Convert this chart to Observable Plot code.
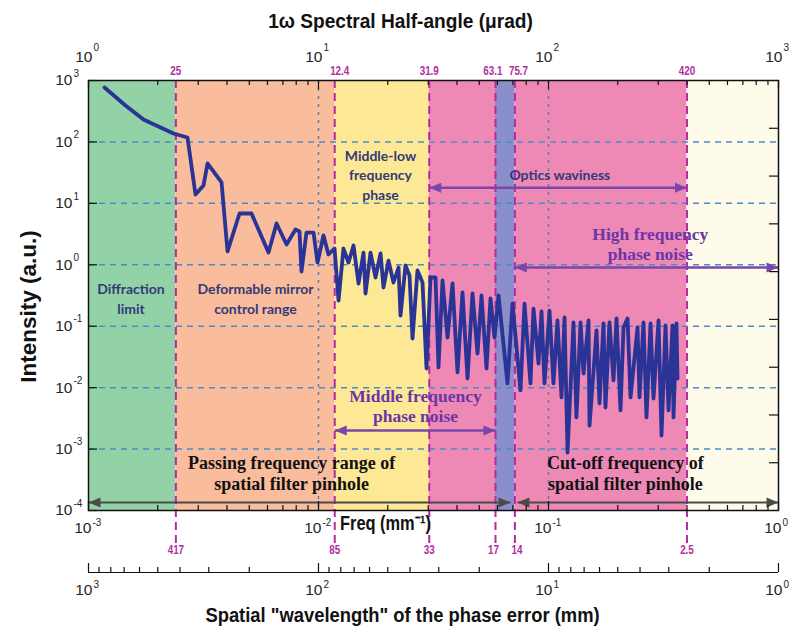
<!DOCTYPE html>
<html><head><meta charset="utf-8">
<script src="https://cdn.jsdelivr.net/npm/d3@7"></script>
<script src="https://cdn.jsdelivr.net/npm/@observablehq/plot@0.6"></script>
<style>body{margin:0;background:#fff;} #chart svg{display:block;}</style>
</head><body><div id="chart"></div>
<script>
// ---- data ----
const freq = [0.001174,0.001448,0.001734,0.002056,0.002343,0.002694,0.002919,0.003162,0.003292,0.003788,
0.004022,0.004535,0.005113,0.006062,0.006569,0.007261,0.007943,0.008267,0.008435,0.008866,
0.009512,0.009901,0.01051,0.01105,0.01174,0.01222,0.01284,0.01350,0.01420,0.01493,
0.01569,0.01601,0.01683,0.01769,0.01861,0.01917,0.02015,0.02119,0.02228,0.02273,
0.02389,0.02487,0.02563,0.02694,0.02833,0.02949,0.03069,0.03227,0.03325,0.03461,
0.03639,0.03826,0.04022,0.04228,0.04445,0.04673,0.04913,0.05114,0.05376,0.05596,
0.05824,0.06062,0.06634,0.06974,0.07555,0.07864,0.08350,0.08605,0.09048,0.09325,
0.09607,0.1010,0.1051,0.1094,0.1139,0.1174,0.1210,0.1284,0.1323,0.1378,
0.1420,0.1493,0.1508,0.1617,0.1666,0.1734,0.1769,0.1841,0.1917,0.1976,
0.2056,0.2119,0.2206,0.2273,0.2438,0.2487,0.2588,0.2667,0.2777,0.2861,
0.3009,0.3100,0.3227,0.3325,0.3461,0.3496,0.3601,0.3639];
const intensity = [769,392,232,172,137,118,13.9,19.5,44.6,21.9,
1.65,6.84,6.84,1.58,4.70,2.14,3.75,3.48,0.778,3.35,
3.35,1.09,3.00,1.47,1.84,0.262,1.84,1.09,2.06,0.496,
1.58,0.341,1.58,0.621,1.53,0.427,1.17,0.515,0.903,0.149,
0.973,0.670,0.0631,0.807,0.515,0.0205,0.621,0.621,0.0213,0.555,
0.0655,0.496,0.0177,0.354,0.0141,0.341,0.0360,0.316,0.0205,0.283,
0.0655,0.316,0.0117,0.234,0.0090,0.234,0.0117,0.194,0.0247,0.174,
0.0117,0.180,0.0117,0.124,0.00692,0.139,0.000879,0.115,0.00327,0.115,
0.0170,0.124,0.00242,0.0851,0.00552,0.111,0.00475,0.115,0.0131,0.134,
0.00425,0.0953,0.134,0.00692,0.0953,0.00692,0.115,0.00327,0.111,0.00665,
0.124,0.00166,0.103,0.00425,0.103,0.00327,0.111,0.0141];

const boundaryWavelength = [417, 85, 33, 17, 14, 2.5];           // mm
const boundaryAngleLabels = ["25", "12.4", "31.9", "63.1", "75.7", "420"];
const regionColors = ["#93d2a7", "#f9bc9c", "#fde895", "#ee88b5", "#8a8fcb", "#ee88b5", "#fefbea"];

const freqDecades = [1e-3, 1e-2, 1e-1, 1];
const freqExp = ["-3", "-2", "-1", "0"];
const angleExp = ["0", "1", "2", "3"];
const wavelengthDecades = [1000, 100, 10, 1];
const wavelengthExp = ["3", "2", "1", "0"];
const yDecades = [1e3, 1e2, 1e1, 1, 1e-1, 1e-2, 1e-3, 1e-4];
const yExp = ["3", "2", "1", "0", "-1", "-2", "-3", "-4"];
const gridY = [1e2, 1e1, 1, 1e-1, 1e-2, 1e-3];
const gridX = [1e-2, 1e-1];
const rightTicks = [166.8, 27.8, 4.64, 0.774, 0.129, 0.0215, 0.00359, 0.000599];

const titleTop = "1ω Spectral Half-angle (μrad)";
const titleFreq = "Freq (mm⁻¹)";
const titleWavelength = "Spatial \"wavelength\" of the phase error (mm)";
const titleY = "Intensity (a.u.)";

const navyLabels = [
  {text: "Diffraction\nlimit", f: 0.00153, v: 0.29},
  {text: "Deformable mirror\ncontrol range", f: 0.00532, v: 0.29},
  {text: "Middle-low\nfrequency\nphase", f: 0.0186, v: 30},
  {text: "Optics waviness", f: 0.112, v: 30}
];
const purpleLabels = [
  {text: "High frequency\nphase noise", f: 0.277, v: 2.2},
  {text: "Middle frequency\nphase noise", f: 0.0264, v: 0.0051}
];
const blackLabels = [
  {text: "Passing frequency range of\nspatial filter pinhole", f: 0.00764, v: 0.00041},
  {text: "Cut-off frequency of\nspatial filter pinhole", f: 0.216, v: 0.00041}
];
const purpleArrows = [
  {f1: 1/33, f2: 1/2.5, v: 18},
  {f1: 1/14, f2: 1, v: 0.9},
  {f1: 1/85, f2: 1/17, v: 0.002}
];
const grayArrows = [
  {f1: 1e-3, f2: 0.0684, v: 1.35e-4},
  {f1: 0.0733, f2: 1, v: 1.35e-4}
];

// ---- derived ----
const spectrum = freq.map((f, i) => ({f, v: intensity[i]}));
const edges = [1e-3, ...boundaryWavelength.map(w => 1 / w), 1];
const regions = regionColors.map((c, i) => ({x1: edges[i], x2: edges[i + 1], c}));
const boundaries = boundaryWavelength.map((w, i) => ({f: 1 / w, wl: String(w), ang: boundaryAngleLabels[i]}));
const freqMinor = [];
for (const k of [-3, -2, -1]) for (let m = 2; m <= 9; m++) freqMinor.push(m * 10 ** k);
const wlMinor = [];
for (const k of [0, 1, 2]) for (let m = 2; m <= 9; m++) wlMinor.push(m * 10 ** k);

const FH = 430, FW = 690;
const narrow = "'Liberation Sans Narrow','Liberation Sans',Arial,sans-serif";
const sans = "'Liberation Sans',Arial,sans-serif";
const serif = "'Liberation Serif','Times New Roman',serif";
const arrowHead = {draw(ctx) { ctx.moveTo(0, 0); ctx.lineTo(-12, -5); ctx.lineTo(-12, 5); ctx.closePath(); }};
const tickStyle = {stroke: "#111", strokeWidth: 1.2};
const tickText = {fontFamily: sans, fill: "#262626"};
const magenta = {fill: "#b0309e", fontWeight: "bold", fontSize: 12, fontFamily: narrow};
const title = {fontSize: 21, fontWeight: "bold", fontFamily: narrow, fill: "#111"};

function arrows(data, color, width) {
  return [
    Plot.link(data, {x1: "f1", x2: "f2", y1: "v", y2: "v", stroke: color, strokeWidth: width}),
    Plot.dot(data, {x: "f1", y: "v", symbol: arrowHead, rotate: 180, fill: color, stroke: "none", r: 4}),
    Plot.dot(data, {x: "f2", y: "v", symbol: arrowHead, rotate: 0, fill: color, stroke: "none", r: 4})
  ];
}

const chart = Plot.plot({
  width: 795, height: 637,
  marginLeft: 88, marginRight: 17, marginTop: 80, marginBottom: 127,
  x: {type: "log", domain: [1e-3, 1], axis: null},
  y: {type: "log", domain: [1e-4, 1e3], axis: null},
  color: {type: "identity"},
  style: {background: "#fff", overflow: "visible"},
  marks: [
    Plot.rect(regions, {x1: "x1", x2: "x2", fill: "c"}),
    Plot.ruleY(gridY, {stroke: "#4a8cc9", strokeWidth: 1.5, strokeDasharray: "6,5"}),
    Plot.ruleX(gridX, {stroke: "#5b7fa6", strokeWidth: 1.5, strokeDasharray: "3,5"}),
    Plot.ruleX(boundaries, {x: "f", stroke: "#b42aa0", strokeWidth: 2, strokeDasharray: "8,5", insetBottom: -38}),
    Plot.line(spectrum, {x: "f", y: "v", stroke: "#2a3496", strokeWidth: 3.8}),

    ...arrows(purpleArrows, "#7a46aa", 2.5),
    ...arrows(grayArrows, "#4a4a4a", 2),

    Plot.text(navyLabels, {x: "f", y: "v", text: "text", fill: "#323a78", fontFamily: "Lato,'Open Sans',sans-serif", fontWeight: "bold", fontSize: 14, lineHeight: 1.4}),
    Plot.text(purpleLabels, {x: "f", y: "v", text: "text", fill: "#6a36a6", fontFamily: serif, fontWeight: "bold", fontSize: 17.5, lineHeight: 1.15}),
    Plot.text(blackLabels, {x: "f", y: "v", text: "text", fill: "#111", fontFamily: serif, fontWeight: "bold", fontSize: 18, lineHeight: 1.15}),

    Plot.frame({stroke: "#111", strokeWidth: 1.5}),
    // ticks on the frame
    Plot.ruleX(freqDecades, {...tickStyle, insetTop: FH - 9}),
    Plot.ruleX(freqMinor, {...tickStyle, insetTop: FH - 5}),
    Plot.ruleX(freqDecades, {...tickStyle, insetBottom: FH - 9}),
    Plot.ruleX(freqMinor, {...tickStyle, insetBottom: FH - 5}),
    Plot.ruleY(yDecades, {...tickStyle, insetRight: FW - 9}),
    Plot.ruleY(rightTicks, {...tickStyle, insetLeft: FW - 9}),
    // wavelength axis
    Plot.ruleY([1e-4], {...tickStyle, dy: 62}),
    Plot.ruleX(wavelengthDecades, {...tickStyle, x: d => 1 / d, insetTop: FH - 9, dy: 62}),
    Plot.ruleX(wlMinor, {...tickStyle, x: d => 1 / d, insetTop: FH - 5, dy: 62}),

    // tick labels
    Plot.text(yDecades, {...tickText, y: d => d, frameAnchor: "left", dx: -16, text: () => "10", textAnchor: "end", fontSize: 15.5}),
    Plot.text(yDecades, {...tickText, y: d => d, frameAnchor: "left", dx: -15, dy: -7, text: (d, i) => yExp[i], textAnchor: "start", fontSize: 10}),
    Plot.text(freqDecades, {...tickText, x: d => d, frameAnchor: "bottom", dy: 22, dx: 3, text: () => "10", textAnchor: "end", fontSize: 15.5}),
    Plot.text(freqDecades, {...tickText, x: d => d, frameAnchor: "bottom", dy: 15, dx: 4, text: (d, i) => freqExp[i], textAnchor: "start", fontSize: 10}),
    Plot.text(freqDecades, {...tickText, x: d => d, frameAnchor: "top", dy: -30, dx: 4, text: () => "10", textAnchor: "end", fontSize: 15.5}),
    Plot.text(freqDecades, {...tickText, x: d => d, frameAnchor: "top", dy: -37, dx: 5, text: (d, i) => angleExp[i], textAnchor: "start", fontSize: 10}),
    Plot.text(wavelengthDecades, {...tickText, x: d => 1 / d, frameAnchor: "bottom", dy: 84, dx: 4, text: () => "10", textAnchor: "end", fontSize: 15.5}),
    Plot.text(wavelengthDecades, {...tickText, x: d => 1 / d, frameAnchor: "bottom", dy: 77, dx: 5, text: (d, i) => wavelengthExp[i], textAnchor: "start", fontSize: 10}),

    // magenta boundary labels
    Plot.text(boundaries, {...magenta, filter: (d, i) => i === 0 || i === 2 || i === 5, x: "f", frameAnchor: "top", dy: -14, text: "ang"}),
    Plot.text(boundaries, {...magenta, filter: (d, i) => i === 1, x: "f", frameAnchor: "top", dy: -14, dx: 5, text: "ang"}),
    Plot.text(boundaries, {...magenta, filter: (d, i) => i === 3, x: "f", frameAnchor: "top", dy: -14, dx: 7, textAnchor: "end", text: "ang"}),
    Plot.text(boundaries, {...magenta, filter: (d, i) => i === 4, x: "f", frameAnchor: "top", dy: -14, dx: -6, textAnchor: "start", text: "ang"}),
    Plot.text(boundaries, {...magenta, filter: (d, i) => i !== 3 && i !== 4, x: "f", frameAnchor: "bottom", dy: 43, text: "wl"}),
    Plot.text(boundaries, {...magenta, filter: (d, i) => i === 3, x: "f", frameAnchor: "bottom", dy: 43, dx: -2, text: "wl"}),
    Plot.text(boundaries, {...magenta, filter: (d, i) => i === 4, x: "f", frameAnchor: "bottom", dy: 43, dx: 2, text: "wl"}),

    // axis titles
    Plot.text([titleTop], {...title, text: d => d, frameAnchor: "top", dy: -67, dx: -33}),
    Plot.text([titleFreq], {...title, text: d => d, frameAnchor: "bottom", dy: 19, dx: -48}),
    Plot.text([titleWavelength], {...title, text: d => d, frameAnchor: "bottom", dy: 111, dx: -31}),
    Plot.text([titleY], {text: d => d, frameAnchor: "left", textAnchor: "middle", dx: -60, dy: 11, rotate: -90,
      fontSize: 22.5, fontWeight: "bold", fontFamily: sans, fill: "#111"})
  ]
});
document.getElementById("chart").appendChild(chart);
// emulate a condensed face: squeeze the glyphs of the "narrow" texts horizontally
const squeeze = new Map([[titleTop, 0.91], [titleWavelength, 0.875], [titleFreq, 0.78]]);
d3.select(chart).selectAll("g[font-family*='Narrow'] text").each(function () {
  const len = this.getComputedTextLength();
  const k = squeeze.get(this.textContent) ?? 0.82;
  this.setAttribute("textLength", (len * k).toFixed(1));
  this.setAttribute("lengthAdjust", "spacingAndGlyphs");
});
</script>
</body></html>
